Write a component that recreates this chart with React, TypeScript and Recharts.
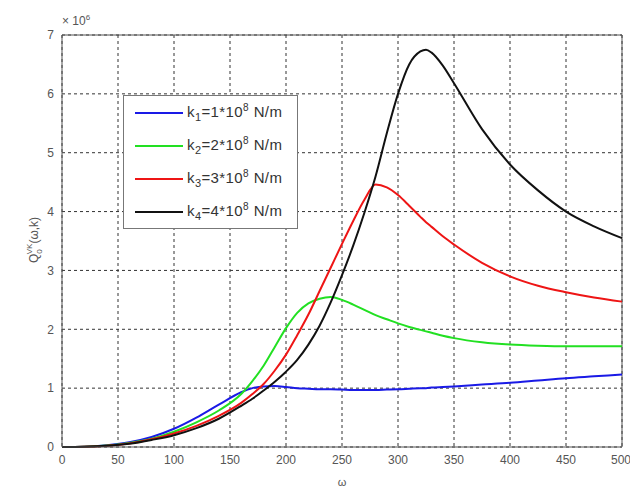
import React from 'react';
import {
  LineChart,
  Line,
  XAxis,
  YAxis,
  CartesianGrid,
  ReferenceLine,
} from 'recharts';

const omega = [0, 20, 40, 60, 80, 100, 120, 140, 160, 170, 180, 190, 200, 210, 220, 230, 240, 250, 260, 270, 280, 290, 300, 310, 320, 325, 330, 340, 350, 375, 400, 425, 450, 475, 500];

const k1 = [0, 0.005, 0.03, 0.08, 0.17, 0.31, 0.5, 0.72, 0.93, 1.0, 1.03, 1.035, 1.02, 1.0, 0.99, 0.98, 0.98, 0.975, 0.97, 0.97, 0.97, 0.975, 0.98, 0.99, 1.0, 1.0, 1.01, 1.02, 1.03, 1.06, 1.09, 1.13, 1.17, 1.2, 1.23];
const k2 = [0, 0.004, 0.025, 0.07, 0.14, 0.26, 0.42, 0.62, 0.9, 1.12, 1.38, 1.7, 2.02, 2.28, 2.44, 2.52, 2.55, 2.5, 2.42, 2.33, 2.24, 2.17, 2.1, 2.04, 1.99, 1.965, 1.94, 1.89, 1.85, 1.78, 1.74, 1.72, 1.71, 1.71, 1.71];
const k3 = [0, 0.004, 0.022, 0.06, 0.13, 0.23, 0.36, 0.53, 0.75, 0.9, 1.07, 1.3, 1.57, 1.9, 2.25, 2.65, 3.05, 3.45, 3.84, 4.2, 4.46, 4.41, 4.28, 4.1, 3.91, 3.82, 3.74, 3.58, 3.44, 3.13, 2.9, 2.74, 2.63, 2.54, 2.47];
const k4 = [0, 0.004, 0.02, 0.055, 0.12, 0.2, 0.32, 0.48, 0.7, 0.82, 0.96, 1.11, 1.28, 1.48, 1.74, 2.06, 2.46, 2.92, 3.42, 3.98, 4.6, 5.33, 6.0, 6.5, 6.72, 6.75, 6.7, 6.48, 6.18, 5.4, 4.8, 4.36, 4.0, 3.75, 3.55];

const xTicks = [0, 50, 100, 150, 200, 250, 300, 350, 400, 450, 500];
const yTicks = [0, 1, 2, 3, 4, 5, 6, 7];

const series = [
  { key: 'k1', idx: '1', mult: '1', color: '#1a1ae6' },
  { key: 'k2', idx: '2', mult: '2', color: '#22e022' },
  { key: 'k3', idx: '3', mult: '3', color: '#ee1515' },
  { key: 'k4', idx: '4', mult: '4', color: '#111111' },
];

const data = omega.map((w, i) => ({ w, k1: k1[i], k2: k2[i], k3: k3[i], k4: k4[i] }));

const font = '"Liberation Sans", Arial, sans-serif';

// legend box drawn over the plot, like matlab's legend inside the axes
function LegendBox() {
  return (
    <div
      style={{
        position: 'absolute',
        left: 123,
        top: 95,
        width: 175,
        height: 134,
        background: '#fff',
        border: '1px solid #777',
        boxSizing: 'border-box',
        fontFamily: font,
        fontSize: 15,
        color: '#333',
      }}
    >
      {series.map((s) => (
        <div key={s.key} style={{ height: 33, display: 'flex', alignItems: 'center' }}>
          <svg width={63} height={10} style={{ flex: 'none' }}>
            <line x1={11} x2={59} y1={5} y2={5} stroke={s.color} strokeWidth={2} />
          </svg>
          <span style={{ letterSpacing: 0.4 }}>
            k<sub style={{ fontSize: 11 }}>{s.idx}</sub>={s.mult}*10<sup style={{ fontSize: 10 }}>8</sup> N/m
          </span>
        </div>
      ))}
    </div>
  );
}

export default function App() {
  return (
    <div style={{ position: 'absolute', left: 0, top: 0, width: 630, height: 488, background: '#fff' }}>
      <LineChart width={630} height={488} data={data} margin={{ top: 35, right: 8, bottom: 0, left: 0 }}>
        <CartesianGrid stroke="#333" strokeDasharray="3 3" horizontal vertical />
        <XAxis
          dataKey="w"
          type="number"
          domain={[0, 500]}
          ticks={xTicks}
          height={41}
          tickLine={false}
          stroke="#555"
          tick={{ fill: '#555', fontSize: 12, fontFamily: font }}
          label={{ value: 'ω', position: 'insideBottom', offset: 2, fill: '#555', fontSize: 11, fontFamily: font }}
        />
        <YAxis
          type="number"
          domain={[0, 7]}
          ticks={yTicks}
          width={62}
          tickLine={false}
          stroke="#555"
          tick={{ fill: '#555', fontSize: 12, fontFamily: font }}
        />
        <ReferenceLine y={7} stroke="#555" />
        <ReferenceLine x={500} stroke="#555" />
        {series.map((s) => (
          <Line
            key={s.key}
            type="monotone"
            dataKey={s.key}
            stroke={s.color}
            strokeWidth={2}
            dot={false}
            isAnimationActive={false}
          />
        ))}
        <text x={62} y={25} fill="#555" fontSize={12} fontFamily={font}>
          × 10
          <tspan dy={-5} fontSize={8}>6</tspan>
        </text>
        <text transform="translate(38 240) rotate(-90)" textAnchor="middle" fill="#555" fontSize={12} fontFamily={font}>
          Q
          <tspan dy={4} fontSize={8}>0</tspan>
          <tspan dx={-5} dy={-10} fontSize={8}>VK</tspan>
          <tspan dy={6}>(ω,k)</tspan>
        </text>
      </LineChart>
      <LegendBox />
    </div>
  );
}
